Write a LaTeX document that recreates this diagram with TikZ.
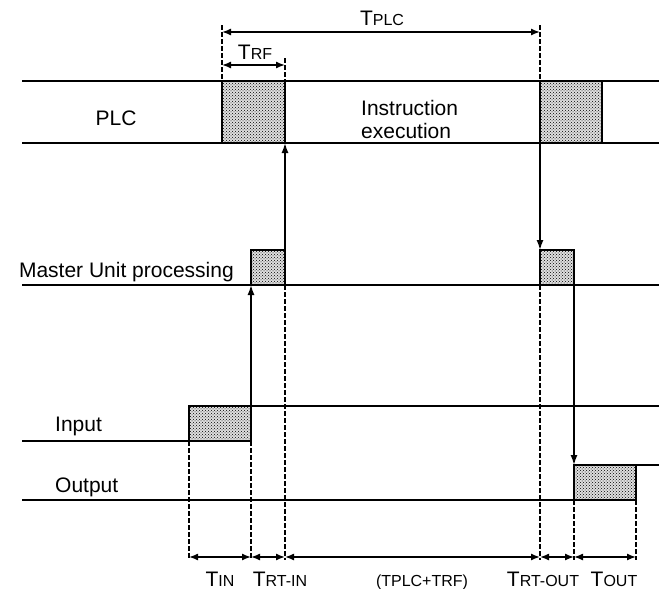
\documentclass[tikz,border=0pt]{standalone}
\usepackage{fontspec}
\setmainfont{Liberation Sans}
\usetikzlibrary{arrows.meta,patterns}
\tikzset{
  wave/.style={line width=1.6pt},
  busy/.style={draw, line width=1.6pt, preaction={fill=gray!25}, pattern=crosshatch dots},
  guide/.style={line width=1.1pt, dash pattern=on 4.5pt off 2.5pt},
  flow/.style={-{Latex[length=10pt,width=7pt]}, line width=1.5pt},
  dim/.style={{Latex[length=9pt,width=7pt]}-{Latex[length=9pt,width=7pt]}, line width=1.4pt},
  lbl/.style={inner sep=0pt, font=\fontsize{21}{23}\selectfont},
  tlbl/.style={inner sep=0pt, anchor=base, font=\fontsize{21}{23}\selectfont}
}
\newcommand{\tsub}[1]{T{\fontsize{16}{18}\selectfont #1}}

\begin{document}
\begin{tikzpicture}[x=1pt, y=-1pt]
  \useasboundingbox (0,0) rectangle (659,589);

  % PLC lane
  \draw[wave] (22,81) -- (659,81);
  \draw[wave] (22,143) -- (659,143);
  \draw[busy] (222,81) rectangle (285,143);
  \draw[busy] (540,81) rectangle (602,143);
  \node[lbl, anchor=base] (plc) at (116,125) {PLC};
  \node[lbl, anchor=west, align=left] (exec) at (361,119) {Instruction\\execution};

  % Master Unit lane
  \draw[wave] (22,285) -- (659,285);
  \draw[busy] (251,250) rectangle (285,285);
  \draw[busy] (540,250) rectangle (574,285);
  \node[lbl, anchor=base east] (mu) at (234,277) {Master Unit processing};

  % Input and Output lanes
  \draw[wave] (22,441) -- (251,441);
  \draw[busy] (189,406) rectangle (251,441);
  \draw[wave] (251,406) -- (659,406);
  \node[lbl, anchor=base west] (inp) at (55,431) {Input};
  \draw[wave] (22,500) -- (636,500);
  \draw[busy] (574,465) rectangle (636,500);
  \draw[wave] (636,465) -- (659,465);
  \node[lbl, anchor=base west] (outp) at (55,492) {Output};

  % hand-over points
  \coordinate (inUp) at (251,406);
  \coordinate (muIn) at (251,285);
  \coordinate (muUp) at (285,250);
  \coordinate (plcIn) at (285,143);
  \coordinate (plcOut) at (540,143);
  \coordinate (muDn) at (540,250);
  \coordinate (muOut) at (574,285);
  \coordinate (outDn) at (574,465);

  \draw[flow] (inUp) -- (muIn);
  \draw[flow] (muUp) -- (plcIn);
  \draw[flow] (plcOut) -- (muDn);
  \draw[flow] (muOut) -- (outDn);

  % guides
  \draw[guide] (222,25) -- (222,81);
  \draw[guide] (285,58) -- (285,81);
  \draw[guide] (540,25) -- (540,81);
  \draw[guide] (285,285) -- (285,560);
  \draw[guide] (540,285) -- (540,560);
  \foreach \x in {189,251} \draw[guide] (\x,441) -- (\x,560);
  \foreach \x in {574,636} \draw[guide] (\x,500) -- (\x,560);

  % top times
  \coordinate (p0) at (222,32);
  \coordinate (p1) at (540,32);
  \coordinate (r0) at (222,65);
  \coordinate (r1) at (285,65);
  \draw[dim] (p0) -- (p1);
  \draw[dim] (r0) -- (r1);
  \node[tlbl] (tplc) at (382,25) {\tsub{PLC}};
  \node[tlbl] (trf) at (255,59) {\tsub{RF}};

  % bottom times
  \foreach \n/\x in {0/189,1/251,2/285,3/540,4/574,5/636}
    \coordinate (b\n) at (\x,557);
  \foreach \a/\b in {0/1,1/2,2/3,3/4,4/5}
    \draw[dim] (b\a) -- (b\b);
  \node[tlbl] (tin) at (220,586) {\tsub{IN}};
  \node[tlbl] (trtin) at (280,586) {\tsub{RT-IN}};
  \node[tlbl] (tsum) at (422,586) {\fontsize{16}{18}\selectfont (TPLC+TRF)};
  \node[tlbl] (trtout) at (543,586) {\tsub{RT-OUT}};
  \node[tlbl] (tout) at (614,586) {\tsub{OUT}};
\end{tikzpicture}
\end{document}
